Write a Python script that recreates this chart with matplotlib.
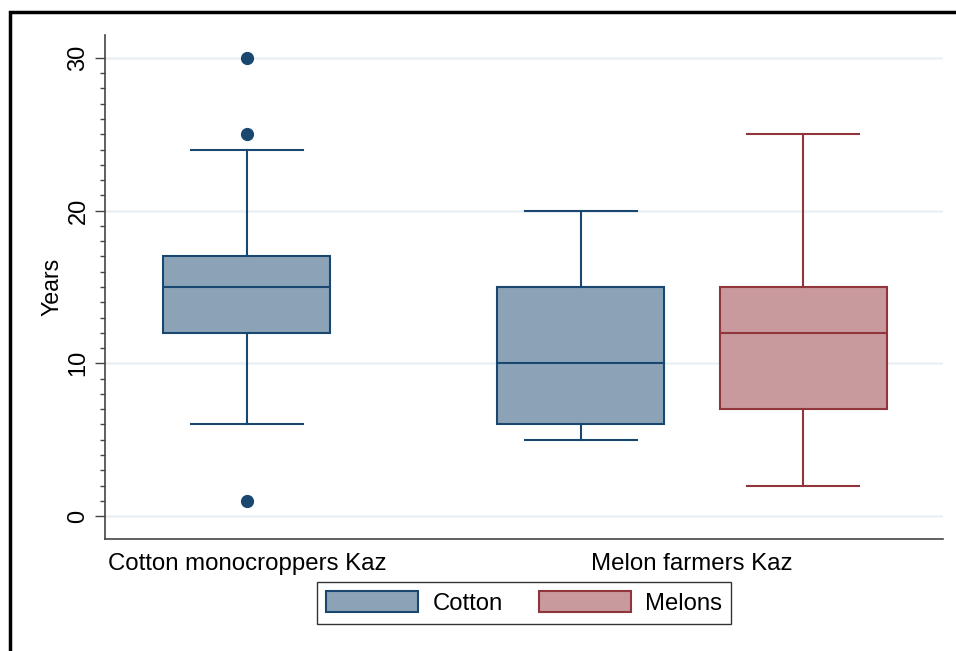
import matplotlib.pyplot as plt
from matplotlib.patches import Patch, Rectangle
import numpy as np

plt.rcParams['font.family'] = ['Liberation Sans', 'DejaVu Sans']

# Datos (anos)
grupos = ['Cotton monocroppers Kaz', 'Melon farmers Kaz']
series = ['Cotton', 'Melons']
# cada caja: [bigote inf, Q1, mediana, Q3, bigote sup]
caja_cotton_mono = [6, 12, 15, 17, 24]
caja_cotton_melon = [5, 6, 10, 15, 20]
caja_melons_melon = [2, 7, 12, 15, 25]
atipicos_cotton_mono = [1, 25, 30]
atipicos_cotton_melon = []
atipicos_melons_melon = []

azul = '#1A476F'
azul_rel = '#8CA3B7'
rojo = '#90353B'
rojo_rel = '#C89A9D'

def stats(c, fl):
    return dict(whislo=c[0], q1=c[1], med=c[2], q3=c[3], whishi=c[4], fliers=fl)

fig = plt.figure(figsize=(9.56, 6.51), dpi=100)
ax = fig.add_axes([105/956, 1 - 539/651, (943 - 105)/956, (539 - 35)/651])

cajas = [
    (stats(caja_cotton_mono, atipicos_cotton_mono), 0.85, azul, azul_rel),
    (stats(caja_cotton_melon, atipicos_cotton_melon), 2.85, azul, azul_rel),
    (stats(caja_melons_melon, atipicos_melons_melon), 4.18, rojo, rojo_rel),
]
for st, pos, borde, relleno in cajas:
    ax.bxp([st], positions=[pos], widths=1.0, capwidths=0.67, patch_artist=True,
           boxprops=dict(facecolor=relleno, edgecolor=borde, linewidth=1.5),
           medianprops=dict(color=borde, linewidth=1.5),
           whiskerprops=dict(color=borde, linewidth=1.5),
           capprops=dict(color=borde, linewidth=1.5),
           flierprops=dict(marker='o', markerfacecolor=borde, markeredgecolor=borde,
                           markersize=8.5),
           manage_ticks=False, zorder=3)

ax.set_xlim(0, 838/167)
ax.set_ylim(-1.5, 31.5)
ax.set_yticks([0, 10, 20, 30])
ax.set_yticks(np.arange(0, 31, 1), minor=True)
ax.tick_params(axis='y', which='major', length=7.2, width=1, color='#444444',
               labelsize=17, labelrotation=90, pad=4)
ax.tick_params(axis='y', which='minor', length=3.6, width=1, color='#444444')
for lab in ax.get_yticklabels():
    lab.set_va('center')
ax.set_xticks([0.85, (2.85 + 4.18) / 2])
ax.set_xticklabels(grupos, fontsize=17.3)
ax.tick_params(axis='x', length=0, pad=10)
ax.set_ylabel('Years', fontsize=16.7, labelpad=3)
ax.grid(axis='y', which='major', color='#EAF1F4', linewidth=1.8, zorder=0)
ax.set_axisbelow(True)
for lado in ['top', 'right']:
    ax.spines[lado].set_visible(False)
for lado in ['left', 'bottom']:
    ax.spines[lado].set_color('#444444')
    ax.spines[lado].set_linewidth(1.2)

handles = [Patch(facecolor=azul_rel, edgecolor=azul, linewidth=1.5),
           Patch(facecolor=rojo_rel, edgecolor=rojo, linewidth=1.5)]
leg = fig.legend(handles, series, loc='center', bbox_to_anchor=(524/956, 1 - 603/651),
                 ncol=2, fontsize=17.2, frameon=True, fancybox=False,
                 handlelength=3.85, handleheight=0.95, columnspacing=1.5,
                 handletextpad=0.6, borderpad=0.4, borderaxespad=0)
leg.get_frame().set_edgecolor('black')
leg.get_frame().set_linewidth(1.0)

# marco exterior (solo arriba e izquierda visibles)
fig.add_artist(Rectangle((10/956, -0.1), 1.2, 1.1 - 12/651, transform=fig.transFigure,
                         fill=False, edgecolor='black', linewidth=2.5))

plt.savefig('out.png', dpi=100)
